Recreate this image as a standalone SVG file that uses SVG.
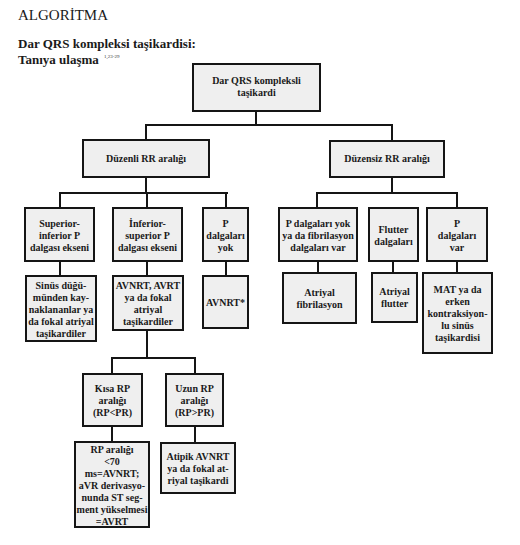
<svg xmlns="http://www.w3.org/2000/svg" width="520" height="545" viewBox="0 0 520 545">
<style>
.bg{fill:#ffffff}
.box{fill:#efefef;stroke:#151515;stroke-width:2}
.t{font-family:"Liberation Serif","Times New Roman",serif;font-weight:bold;font-size:10px;fill:#1a1a1a;text-anchor:middle}
.c{fill:none;stroke:#151515;stroke-width:2}
.title{font-family:"Liberation Serif","Times New Roman",serif;font-size:15px;fill:#1a1a1a}
.sub{font-family:"Liberation Serif","Times New Roman",serif;font-weight:bold;font-size:13px;fill:#1a1a1a}
.sup{font-family:"Liberation Serif","Times New Roman",serif;font-size:5px;fill:#333}
</style>
<rect class="bg" x="0" y="0" width="520" height="545"/>
<text class="title" x="18" y="20">ALGORİTMA</text>
<text class="sub" x="18" y="48">Dar QRS kompleksi taşikardisi:</text>
<text class="sub" x="18" y="64">Tanıya ulaşma</text>
<text class="sup" x="104" y="58">1,23-29</text>

<g id="connectors">
<path class="c" d="M256,111 V125 M146,125 H392 M146,124 V140 M392,124 V141"/>
<path class="c" d="M146,177 V193 M60,193 H228 M60,192 V208 M147,192 V208 M226,192 V208"/>
<path class="c" d="M392,177 V193 M317,193 H457 M317,192 V208 M457,192 V208"/>
<path class="c" d="M60,261 V276 M147,261 V276 M226,261 V276"/>
<path class="c" d="M318,261 V273 M393,261 V273 M457,261 V273"/>
<path class="c" d="M147,330 V358 M112,358 H195 M112,357 V374 M195,357 V374"/>
<path class="c" d="M112,426 V442 M195,426 V443"/>
</g>

<g id="n-root"><rect class="box" x="193" y="64" width="127" height="47"/>
<text class="t"><tspan x="256.5" y="84">Dar QRS kompleksli</tspan><tspan x="256.5" y="96">taşikardi</tspan></text></g>

<g id="n-duzenli"><rect class="box" x="83" y="140" width="126" height="37"/>
<text class="t" x="146" y="162">Düzenli RR aralığı</text></g>

<g id="n-duzensiz"><rect class="box" x="330" y="141" width="114" height="36"/>
<text class="t" x="387" y="162">Düzensiz RR aralığı</text></g>

<g id="n-supinf"><rect class="box" x="25" y="208" width="69" height="53"/>
<text class="t"><tspan x="59.5" y="226.5">Superior-</tspan><tspan x="59.5" y="238.5">inferior P</tspan><tspan x="59.5" y="250.5">dalgası ekseni</tspan></text></g>

<g id="n-infsup"><rect class="box" x="113" y="208" width="69" height="53"/>
<text class="t"><tspan x="147.5" y="226.5">İnferior-</tspan><tspan x="147.5" y="238.5">superior P</tspan><tspan x="147.5" y="250.5">dalgası ekseni</tspan></text></g>

<g id="n-pyok"><rect class="box" x="203" y="208" width="45" height="53"/>
<text class="t"><tspan x="225.5" y="226.5">P</tspan><tspan x="225.5" y="238.5">dalgaları</tspan><tspan x="225.5" y="250.5">yok</tspan></text></g>

<g id="n-sinus"><rect class="box" x="26" y="276" width="70" height="65"/>
<text class="t"><tspan x="61" y="289">Sinüs düğü-</tspan><tspan x="61" y="301">münden kay-</tspan><tspan x="61" y="313">naklananlar ya</tspan><tspan x="61" y="325">da fokal atriyal</tspan><tspan x="61" y="337">taşikardiler</tspan></text></g>

<g id="n-avnrt-avrt"><rect class="box" x="113" y="276" width="70" height="54"/>
<text class="t"><tspan x="148" y="288.5">AVNRT, AVRT</tspan><tspan x="148" y="300.5">ya da fokal</tspan><tspan x="148" y="312.5">atriyal</tspan><tspan x="148" y="324.5">taşikardiler</tspan></text></g>

<g id="n-avnrt-star"><rect class="box" x="203" y="276" width="45" height="52"/>
<text class="t" x="225.5" y="305.5">AVNRT*</text></g>

<g id="n-pyok-fib"><rect class="box" x="279" y="208" width="78" height="53"/>
<text class="t"><tspan x="318" y="226.5">P dalgaları yok</tspan><tspan x="318" y="238.5">ya da fibrilasyon</tspan><tspan x="318" y="250.5">dalgaları var</tspan></text></g>

<g id="n-flutter-dalga"><rect class="box" x="369" y="208" width="49" height="53"/>
<text class="t"><tspan x="393.5" y="232.5">Flutter</tspan><tspan x="393.5" y="244.5">dalgaları</tspan></text></g>

<g id="n-pvar"><rect class="box" x="427" y="208" width="60" height="53"/>
<text class="t"><tspan x="457" y="226.5">P</tspan><tspan x="457" y="238.5">dalgaları</tspan><tspan x="457" y="250.5">var</tspan></text></g>

<g id="n-afib"><rect class="box" x="283" y="273" width="73" height="50"/>
<text class="t"><tspan x="319.5" y="295.5">Atriyal</tspan><tspan x="319.5" y="307.5">fibrilasyon</tspan></text></g>

<g id="n-aflutter"><rect class="box" x="372" y="273" width="45" height="49"/>
<text class="t"><tspan x="394.5" y="295">Atriyal</tspan><tspan x="394.5" y="307">flutter</tspan></text></g>

<g id="n-mat"><rect class="box" x="423" y="273" width="69" height="80"/>
<text class="t"><tspan x="457.5" y="292.5">MAT ya da</tspan><tspan x="457.5" y="304.5">erken</tspan><tspan x="457.5" y="316.5">kontraksiyon-</tspan><tspan x="457.5" y="328.5">lu sinüs</tspan><tspan x="457.5" y="340.5">taşikardisi</tspan></text></g>

<g id="n-kisa"><rect class="box" x="83" y="374" width="59" height="52"/>
<text class="t"><tspan x="112.5" y="391.5">Kısa RP</tspan><tspan x="112.5" y="403.5">aralığı</tspan><tspan x="112.5" y="415.5">(RP&lt;PR)</tspan></text></g>

<g id="n-uzun"><rect class="box" x="166" y="374" width="57" height="52"/>
<text class="t"><tspan x="194.5" y="391.5">Uzun RP</tspan><tspan x="194.5" y="403.5">aralığı</tspan><tspan x="194.5" y="415.5">(RP&gt;PR)</tspan></text></g>

<g id="n-rp70"><rect class="box" x="75" y="442" width="74" height="85"/>
<text class="t"><tspan x="112" y="452.5">RP aralığı</tspan><tspan x="112" y="464.5">&lt;70</tspan><tspan x="112" y="476.5">ms=AVNRT;</tspan><tspan x="112" y="488.5">aVR derivasyo-</tspan><tspan x="112" y="500.5">nunda ST seg-</tspan><tspan x="112" y="512.5">ment yükselmesi</tspan><tspan x="112" y="524.5">=AVRT</tspan></text></g>

<g id="n-atipik"><rect class="box" x="161" y="443" width="74" height="50"/>
<text class="t"><tspan x="198" y="459.5">Atipik AVNRT</tspan><tspan x="198" y="471.5">ya da fokal at-</tspan><tspan x="198" y="483.5">riyal taşikardi</tspan></text></g>
</svg>
